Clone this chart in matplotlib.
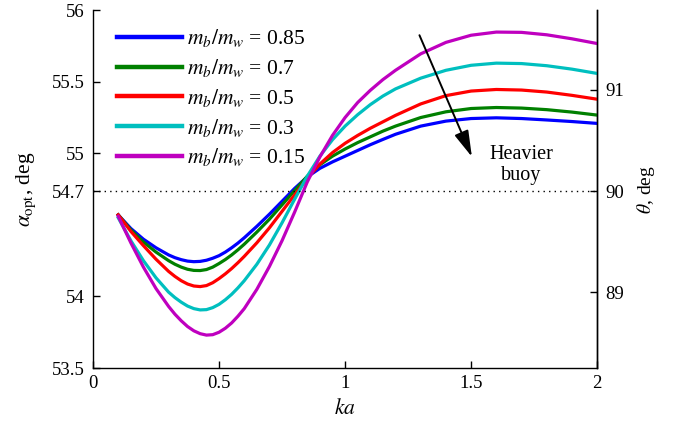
import numpy as np
import matplotlib
matplotlib.use("Agg")
import matplotlib.pyplot as plt

plt.rcParams['font.family'] = ['Liberation Serif', 'DejaVu Serif']
plt.rcParams['mathtext.fontset'] = 'stix'

ka = [0.1, 0.15, 0.2, 0.25, 0.3, 0.325, 0.35, 0.375, 0.4, 0.425, 0.45, 0.475, 0.5,
      0.525, 0.55, 0.575, 0.6, 0.65, 0.7, 0.75, 0.8, 0.85, 0.9, 0.95, 1.0, 1.05, 1.1,
      1.15, 1.2, 1.3, 1.4, 1.5, 1.6, 1.7, 1.8, 1.9, 2.0]

alpha_085 = [54.57, 54.475, 54.40, 54.34, 54.29, 54.271, 54.257, 54.247, 54.243, 54.245,
             54.253, 54.267, 54.285, 54.31, 54.34, 54.373, 54.41, 54.49, 54.575, 54.665,
             54.755, 54.835, 54.895, 54.94, 54.98, 55.02, 55.06, 55.097, 55.133, 55.19,
             55.225, 55.243, 55.248, 55.243, 55.233, 55.222, 55.209]
alpha_07 = [54.57, 54.465, 54.38, 54.31, 54.25, 54.225, 54.205, 54.19, 54.182, 54.181,
            54.188, 54.205, 54.23, 54.258, 54.29, 54.326, 54.365, 54.45, 54.54, 54.64,
            54.74, 54.84, 54.92, 54.98, 55.03, 55.075, 55.115, 55.155, 55.19, 55.25,
            55.29, 55.313, 55.32, 55.316, 55.305, 55.288, 55.267]
alpha_05 = [54.57, 54.455, 54.355, 54.26, 54.175, 54.14, 54.11, 54.087, 54.073, 54.069,
            54.076, 54.096, 54.125, 54.158, 54.195, 54.236, 54.28, 54.375, 54.48, 54.595,
            54.71, 54.825, 54.925, 55.005, 55.07, 55.125, 55.175, 55.22, 55.265, 55.345,
            55.403, 55.435, 55.446, 55.442, 55.428, 55.405, 55.378]
alpha_03 = [54.55, 54.39, 54.25, 54.13, 54.03, 53.992, 53.96, 53.933, 53.915, 53.906,
            53.908, 53.922, 53.945, 53.977, 54.015, 54.06, 54.11, 54.225, 54.36, 54.515,
            54.68, 54.84, 54.98, 55.095, 55.19, 55.27, 55.34, 55.40, 55.45, 55.525,
            55.58, 55.615, 55.63, 55.627, 55.612, 55.588, 55.558]
alpha_015 = [54.56, 54.375, 54.205, 54.055, 53.93, 53.876, 53.83, 53.79, 53.76, 53.74,
             53.73, 53.733, 53.75, 53.778, 53.815, 53.862, 53.915, 54.05, 54.21, 54.39,
             54.59, 54.80, 54.975, 55.125, 55.25, 55.355, 55.44, 55.515, 55.58, 55.695,
             55.775, 55.825, 55.847, 55.845, 55.828, 55.80, 55.767]

series = [
    ("0.85", alpha_085, (0, 0, 1)),
    ("0.7", alpha_07, (0, 0.5, 0)),
    ("0.5", alpha_05, (1, 0, 0)),
    ("0.3", alpha_03, (0, 0.75, 0.75)),
    ("0.15", alpha_015, (0.75, 0, 0.75)),
]

magic = 54.7356
left_ticks = [53.5, 54, magic, 55, 55.5, 56]
left_labels = ["53.5", "54", "54.7", "55", "55.5", "56"]
x_ticks = [0, 0.5, 1, 1.5, 2]
x_labels = ["0", "0.5", "1", "1.5", "2"]
theta_ticks = [89, 90, 91]

fig = plt.figure(figsize=(6.74, 4.24), dpi=100)
ax = fig.add_axes([0.138, 0.132, 0.748, 0.844])

for lab, vals, col in series:
    ax.plot(ka, vals, color=col, lw=2.3, label=r'$m_b/m_w$ = ' + lab,
            solid_joinstyle='round')

ax.axhline(magic, color='k', ls=(0, (1, 3)), lw=1.0)

ax.set_xlim(0, 2)
ax.set_ylim(53.5, 56)
ax.set_xticks(x_ticks)
ax.set_xticklabels(x_labels)
ax.set_yticks(left_ticks)
ax.set_yticklabels(left_labels)
ax.tick_params(direction='in', length=5, width=1, labelsize=13.5, pad=6)
ax.tick_params(axis='x', pad=5)
for s in ['left', 'bottom', 'right']:
    ax.spines[s].set_linewidth(1.0)
ax.spines['top'].set_visible(False)

ax.set_xlabel(r'$ka$', fontsize=15.5, labelpad=5)
ax.set_ylabel(r'$\alpha_{\rm opt}$, deg', fontsize=15.5, labelpad=10)

sec = ax.secondary_yaxis('right', functions=(lambda a: 90 + (a - magic) * np.sqrt(2),
                                              lambda t: magic + (t - 90) / np.sqrt(2)))
sec.set_yticks(theta_ticks)
sec.tick_params(direction='in', length=5, width=1, labelsize=13.5, pad=6)
sec.spines['right'].set_linewidth(1.0)
sec.set_ylabel(r'$\theta$, deg', fontsize=14, labelpad=8)

ax.annotate('', xy=(1.503, 54.976), xytext=(1.295, 55.825),
            arrowprops=dict(arrowstyle='-|>,head_length=1.6,head_width=0.45',
                            color='k', lw=1.4, shrinkA=0, shrinkB=0))
ax.text(1.698, 54.918, 'Heavier\nbuoy', ha='center', va='center', fontsize=14.5,
        linespacing=1.15)

leg = ax.legend(loc='upper left', frameon=False, fontsize=15.5, handlelength=3.0,
                handletextpad=0.25, labelspacing=0.36, borderaxespad=0.0, borderpad=0.0,
                bbox_to_anchor=(0.0476, 0.952))
for l in leg.get_lines():
    l.set_linewidth(3.2)

fig.savefig('out.png', dpi=100)
